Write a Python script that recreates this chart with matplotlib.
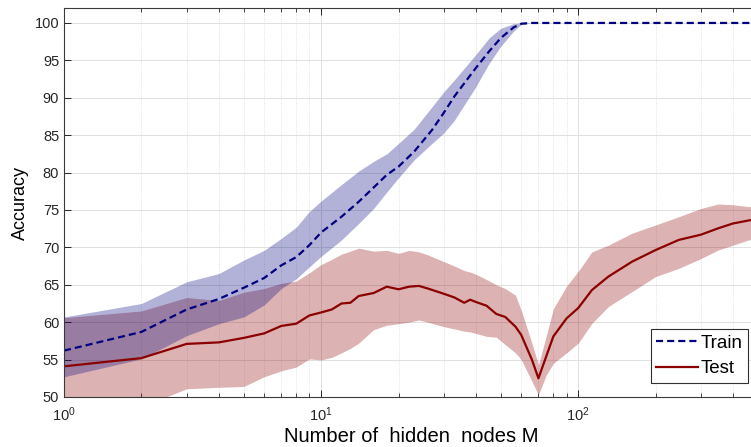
import numpy as np
import matplotlib
matplotlib.use('Agg')
import matplotlib.pyplot as plt
from matplotlib.ticker import LogLocator, NullFormatter

plt.rcParams['font.family'] = ['Liberation Sans', 'DejaVu Sans']
plt.rcParams['mathtext.default'] = 'regular'

# training accuracy: mean and band edges per number of hidden nodes
train_m = [1, 2, 3, 4, 5, 6, 7, 8, 9, 10, 12, 14, 16, 18, 20, 23, 27, 30, 33,
           40, 45, 50, 56, 60, 66, 500]
train_mean = [56.2, 58.7, 61.7, 63.1, 64.6, 65.9, 67.6, 68.7, 70.3, 72.0, 74.1,
              76.1, 78.0, 79.7, 80.8, 82.8, 85.7, 88.0, 90.2, 94.0, 96.2, 98.0,
              99.4, 99.9, 100.0, 100.0]
train_hi = [60.7, 62.5, 65.4, 66.5, 68.3, 69.6, 71.2, 72.7, 74.8, 76.2, 78.4,
            80.2, 81.5, 82.5, 83.9, 85.8, 88.8, 90.8, 92.4, 95.8, 98.0, 99.3,
            99.9, 100.0, 100.0, 100.0]
train_lo = [52.7, 55.1, 58.2, 59.8, 60.7, 62.3, 64.5, 65.8, 67.4, 68.8, 71.0,
            73.2, 75.2, 77.4, 79.3, 81.7, 83.9, 85.3, 87.0, 91.5, 94.6, 96.9,
            98.9, 99.8, 100.0, 100.0]

# test accuracy
test_m = [1, 2, 3, 4, 5, 6, 7, 8, 9, 10, 11, 12, 13, 14, 16, 18, 20, 22, 24,
          26, 30, 33, 36, 38, 40, 44, 48, 52, 57, 60, 66, 70, 75, 80, 90, 100,
          113, 131, 162, 200, 246, 300, 350, 400, 460, 500]
test_mean = [54.1, 55.2, 57.1, 57.3, 57.9, 58.5, 59.5, 59.8, 60.9, 61.3, 61.7,
             62.5, 62.6, 63.5, 63.9, 64.75, 64.4, 64.75, 64.85, 64.5, 63.8, 63.3,
             62.6, 63.0, 62.7, 62.2, 61.1, 60.7, 59.4, 58.3, 55.0, 52.5, 55.4,
             58.1, 60.5, 61.9, 64.3, 66.1, 68.1, 69.65, 71.0, 71.7, 72.55, 73.2,
             73.6, 73.8]
test_hi = [60.6, 61.5, 63.3, 62.9, 64.0, 64.5, 65.2, 65.5, 66.6, 67.7, 68.4,
           69.1, 69.5, 69.9, 69.5, 69.6, 69.2, 69.6, 69.4, 69.0, 68.1, 67.5,
           66.9, 66.7, 66.4, 65.7, 65.0, 64.5, 63.6, 61.6, 57.2, 54.3, 58.1,
           61.8, 64.8, 66.8, 69.4, 70.3, 71.9, 73.0, 74.1, 75.2, 75.8, 75.7,
           75.45, 75.5]
test_lo = [47.9, 48.7, 51.1, 51.3, 51.4, 52.7, 53.5, 54.0, 55.1, 54.95, 55.3,
           55.9, 56.5, 57.2, 59.0, 59.6, 59.8, 60.0, 60.3, 60.0, 59.4, 59.1,
           58.8, 58.7, 58.5, 58.1, 58.0, 57.0, 55.9, 55.0, 52.1, 50.3, 52.9,
           54.5, 55.9, 57.2, 59.85, 62.1, 64.1, 66.1, 67.2, 68.5, 69.65, 70.3,
           71.0, 71.2]

train_col = '#000080'
test_col = '#8b0000'

fig = plt.figure(figsize=(7.51, 4.47), dpi=100)
ax = fig.add_axes([64 / 751, 50 / 447, 694 / 751, 389 / 447])

ax.fill_between(test_m, test_lo, test_hi, color=test_col, alpha=0.3, lw=0)
ax.fill_between(train_m, train_lo, train_hi, color=train_col, alpha=0.3, lw=0)
ax.plot(train_m, train_mean, color=train_col, lw=1.6, ls='--',
        dashes=(3.2, 1.8), label='Train')
ax.plot(test_m, test_mean, color=test_col, lw=1.6, label='Test')

ax.set_xscale('log')
ax.set_xlim(1, 500)
ax.set_ylim(50, 102)
ax.set_yticks(np.arange(50, 101, 5))
ax.xaxis.set_minor_locator(LogLocator(base=10, subs=np.arange(2, 10)))
ax.xaxis.set_minor_formatter(NullFormatter())

ax.grid(True, which='major', color='#e0e0e0', lw=0.7, ls='-')
ax.grid(True, which='minor', axis='x', color='#dadada', lw=0.6, ls=':')
ax.set_axisbelow(True)

ax.tick_params(which='both', direction='in', top=True, right=True,
               colors='#262626', labelsize=10.5)
ax.tick_params(which='major', length=5, width=0.7)
ax.tick_params(which='minor', length=3, width=0.6)
ax.tick_params(axis='x', pad=6)
for s in ax.spines.values():
    s.set_color('#3a3a3a')
    s.set_linewidth(0.8)

ax.set_xlabel('Number of  hidden  nodes M', fontsize=14.5, labelpad=2)
ax.set_ylabel('Accuracy', fontsize=13, labelpad=4)

leg = ax.legend(loc='lower right', bbox_to_anchor=(748 / 751, 64 / 447),
                bbox_transform=fig.transFigure, fontsize=13.5, fancybox=False,
                framealpha=1, edgecolor='#303030', handlelength=2.2,
                handletextpad=0.15, borderpad=0.3, labelspacing=0.45,
                borderaxespad=0)
leg.get_frame().set_linewidth(0.8)

fig.savefig('out.png', dpi=100)
